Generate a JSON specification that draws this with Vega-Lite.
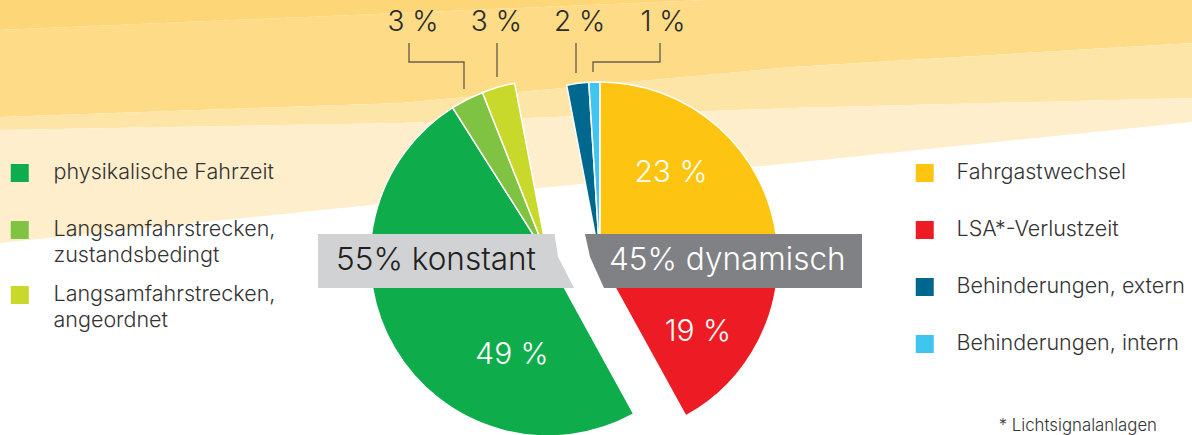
{
  "$schema": "https://vega.github.io/schema/vega-lite/v6.json",
  "width": 1192,
  "height": 435,
  "padding": 0,
  "autosize": {"type": "none"},
  "background": "#ffffff",
  "config": {"view": {"stroke": null}, "font": "Inter"},
  "title": {"text": "* Lichtsignalanlagen", "orient": "bottom", "anchor": "end", "frame": "group", "offset": -21, "dx": -35, "fontSize": 16.8, "font": "Inter", "fontWeight": 300, "color": "#333333", "baseline": "top"},
  "datasets": {
    "anteile": [
      {"Kategorie": "Behinderungen, extern", "Anteil": "dynamisch", "Prozent": 2, "Rang": 1},
      {"Kategorie": "Behinderungen, intern", "Anteil": "dynamisch", "Prozent": 1, "Rang": 2},
      {"Kategorie": "Fahrgastwechsel", "Anteil": "dynamisch", "Prozent": 23, "Rang": 3},
      {"Kategorie": "LSA*-Verlustzeit", "Anteil": "dynamisch", "Prozent": 19, "Rang": 4},
      {"Kategorie": "physikalische Fahrzeit", "Anteil": "konstant", "Prozent": 49, "Rang": 5},
      {"Kategorie": "Langsamfahrstrecken, zustandsbedingt", "Anteil": "konstant", "Prozent": 3, "Rang": 6},
      {"Kategorie": "Langsamfahrstrecken, angeordnet", "Anteil": "konstant", "Prozent": 3, "Rang": 7}
    ],
    "hintergrund": [
      {"Band": "oben", "x": 0, "y": 0, "y2": 30},
      {"Band": "oben", "x": 400, "y": 0, "y2": 13},
      {"Band": "oben", "x": 706, "y": 0, "y2": 0},
      {"Band": "kraeftig", "x": 0, "y": 30, "y2": 117},
      {"Band": "kraeftig", "x": 400, "y": 13, "y2": 103},
      {"Band": "kraeftig", "x": 706, "y": 0, "y2": 74.9},
      {"Band": "kraeftig", "x": 792, "y": 0, "y2": 67},
      {"Band": "kraeftig", "x": 1192, "y": 0, "y2": 43},
      {"Band": "mittel", "x": 0, "y": 117, "y2": 130},
      {"Band": "mittel", "x": 400, "y": 103, "y2": 123},
      {"Band": "mittel", "x": 792, "y": 67, "y2": 108},
      {"Band": "mittel", "x": 1192, "y": 43, "y2": 98},
      {"Band": "hell", "x": 0, "y": 130, "y2": 243},
      {"Band": "hell", "x": 400, "y": 123, "y2": 202},
      {"Band": "hell", "x": 792, "y": 108, "y2": 163},
      {"Band": "hell", "x": 1192, "y": 98, "y2": 122}
    ],
    "banner": [
      {"Banner": "konstant", "y": 234, "x": 318, "x2": 554.5},
      {"Banner": "konstant", "y": 256.7, "x": 318, "x2": 558},
      {"Banner": "konstant", "y": 288, "x": 318, "x2": 574},
      {"Banner": "dynamisch", "y": 234, "x": 585, "x2": 862},
      {"Banner": "dynamisch", "y": 257, "x": 590, "x2": 862},
      {"Banner": "dynamisch", "y": 288, "x": 604, "x2": 862}
    ],
    "fuehrung": [
      {"Linie": 1, "Punkt": 1, "x": 409, "y": 43},
      {"Linie": 1, "Punkt": 2, "x": 409, "y": 62},
      {"Linie": 1, "Punkt": 3, "x": 464, "y": 62},
      {"Linie": 1, "Punkt": 4, "x": 464, "y": 89},
      {"Linie": 2, "Punkt": 1, "x": 497, "y": 43},
      {"Linie": 2, "Punkt": 2, "x": 497, "y": 77},
      {"Linie": 3, "Punkt": 1, "x": 576, "y": 43},
      {"Linie": 3, "Punkt": 2, "x": 576, "y": 73},
      {"Linie": 4, "Punkt": 1, "x": 660, "y": 43},
      {"Linie": 4, "Punkt": 2, "x": 660, "y": 62},
      {"Linie": 4, "Punkt": 3, "x": 593, "y": 62},
      {"Linie": 4, "Punkt": 4, "x": 593, "y": 72}
    ]
  },
  "data": {"name": "anteile"},
  "layer": [
    {
      "data": {"name": "hintergrund"},
      "mark": {"type": "area", "orient": "vertical", "interpolate": "linear"},
      "encoding": {
        "x": {"field": "x", "type": "quantitative", "scale": {"domain": [0, 1192], "nice": false, "zero": false}, "axis": null},
        "y": {"field": "y", "type": "quantitative", "stack": null, "scale": {"domain": [0, 435], "nice": false, "zero": false, "reverse": true}, "axis": null},
        "y2": {"field": "y2"},
        "color": {"field": "Band", "type": "nominal", "scale": {"domain": ["oben", "kraeftig", "mittel", "hell"], "range": ["#fdd677", "#fddb87", "#fde5a8", "#feeecb"]}, "legend": null}
      }
    },
    {
      "transform": [{"filter": "datum.Anteil == 'konstant'"}],
      "mark": {"type": "arc", "outerRadius": 178, "stroke": "#ffffff", "strokeWidth": 1.5},
      "encoding": {
        "theta": {"field": "Prozent", "type": "quantitative", "stack": true, "scale": {"domain": [0, 55], "range": [2.638938, 6.09469]}},
        "order": {"field": "Rang", "type": "quantitative"},
        "x": {"field": "Anteil", "type": "nominal", "scale": {"type": "point", "domain": ["konstant", "dynamisch"], "range": [548, 600], "padding": 0}, "axis": null},
        "y": {"field": "Anteil", "type": "nominal", "scale": {"type": "point", "domain": ["konstant", "dynamisch"], "range": [258, 260], "padding": 0}, "axis": null},
        "color": {
          "field": "Kategorie", "type": "nominal",
          "scale": {"domain": ["physikalische Fahrzeit", "Langsamfahrstrecken, zustandsbedingt", "Langsamfahrstrecken, angeordnet"], "range": ["#0fac4c", "#80c242", "#c8d92b"]},
          "legend": {
            "orient": "none", "legendX": 9, "legendY": 144.5, "title": null, "padding": 0,
            "symbolType": "square", "symbolSize": 324, "symbolStrokeWidth": 0, "symbolOpacity": 1,
            "labelFont": "Inter", "labelFontWeight": 300, "labelFontSize": 21.5, "labelColor": "#333333",
            "labelOffset": 23, "labelLimit": 500, "clipHeight": 57, "rowPadding": 0, "labelBaseline": "middle",
            "labelExpr": "indexof(datum.label, ',') > 0 ? [slice(datum.label, 0, indexof(datum.label, ',') + 1), slice(datum.label, indexof(datum.label, ',') + 2)] : datum.label",
            "encoding": {"labels": {"lineHeight": {"value": 25.5}}}
          }
        }
      }
    },
    {
      "transform": [{"filter": "datum.Anteil == 'dynamisch'"}],
      "mark": {"type": "arc", "outerRadius": 178, "stroke": "#ffffff", "strokeWidth": 1.5},
      "encoding": {
        "theta": {"field": "Prozent", "type": "quantitative", "stack": true, "scale": {"domain": [0, 45], "range": [-0.188496, 2.638938]}},
        "order": {"field": "Rang", "type": "quantitative"},
        "x": {"field": "Anteil", "type": "nominal", "scale": {"type": "point", "domain": ["konstant", "dynamisch"], "range": [548, 600], "padding": 0}, "axis": null},
        "y": {"field": "Anteil", "type": "nominal", "scale": {"type": "point", "domain": ["konstant", "dynamisch"], "range": [258, 260], "padding": 0}, "axis": null},
        "color": {
          "field": "Kategorie", "type": "nominal",
          "scale": {"domain": ["Fahrgastwechsel", "LSA*-Verlustzeit", "Behinderungen, extern", "Behinderungen, intern"], "range": ["#fec412", "#ed1c24", "#00688f", "#40c4f0"]},
          "legend": {
            "orient": "none", "legendX": 914, "legendY": 144.85, "title": null, "padding": 0,
            "symbolType": "square", "symbolSize": 324, "symbolStrokeWidth": 0, "symbolOpacity": 1,
            "labelFont": "Inter", "labelFontWeight": 300, "labelFontSize": 21.5, "labelColor": "#333333",
            "labelOffset": 21, "labelLimit": 500, "clipHeight": 56.3, "rowPadding": 0, "labelBaseline": "middle"
          }
        }
      }
    },
    {
      "transform": [{"filter": "datum.Kategorie == 'Fahrgastwechsel'"}, {"calculate": "datum.Prozent + ' %'", "as": "Label"}],
      "mark": {"type": "text", "font": "Inter", "fontWeight": 300, "fontSize": 30, "color": "#ffffff", "align": "center", "baseline": "middle", "dx": 71, "dy": -87.5},
      "encoding": {
        "x": {"field": "Anteil", "type": "nominal", "scale": {"type": "point", "domain": ["konstant", "dynamisch"], "range": [548, 600], "padding": 0}, "axis": null},
        "y": {"field": "Anteil", "type": "nominal", "scale": {"type": "point", "domain": ["konstant", "dynamisch"], "range": [258, 260], "padding": 0}, "axis": null},
        "text": {"field": "Label", "type": "nominal"}
      }
    },
    {
      "transform": [{"filter": "datum.Kategorie == 'LSA*-Verlustzeit'"}, {"calculate": "datum.Prozent + ' %'", "as": "Label"}],
      "mark": {"type": "text", "font": "Inter", "fontWeight": 300, "fontSize": 30, "color": "#ffffff", "align": "center", "baseline": "middle", "dx": 98, "dy": 72},
      "encoding": {
        "x": {"field": "Anteil", "type": "nominal", "scale": {"type": "point", "domain": ["konstant", "dynamisch"], "range": [548, 600], "padding": 0}, "axis": null},
        "y": {"field": "Anteil", "type": "nominal", "scale": {"type": "point", "domain": ["konstant", "dynamisch"], "range": [258, 260], "padding": 0}, "axis": null},
        "text": {"field": "Label", "type": "nominal"}
      }
    },
    {
      "transform": [{"filter": "datum.Kategorie == 'physikalische Fahrzeit'"}, {"calculate": "datum.Prozent + ' %'", "as": "Label"}],
      "mark": {"type": "text", "font": "Inter", "fontWeight": 300, "fontSize": 30, "color": "#ffffff", "align": "center", "baseline": "middle", "dx": -36, "dy": 97},
      "encoding": {
        "x": {"field": "Anteil", "type": "nominal", "scale": {"type": "point", "domain": ["konstant", "dynamisch"], "range": [548, 600], "padding": 0}, "axis": null},
        "y": {"field": "Anteil", "type": "nominal", "scale": {"type": "point", "domain": ["konstant", "dynamisch"], "range": [258, 260], "padding": 0}, "axis": null},
        "text": {"field": "Label", "type": "nominal"}
      }
    },
    {
      "data": {"name": "banner"},
      "mark": {"type": "area", "orient": "horizontal", "interpolate": "linear"},
      "encoding": {
        "y": {"field": "y", "type": "quantitative", "scale": {"domain": [0, 435], "nice": false, "zero": false, "reverse": true}, "axis": null},
        "x": {"field": "x", "type": "quantitative", "stack": null, "scale": {"domain": [0, 1192], "nice": false, "zero": false}, "axis": null},
        "x2": {"field": "x2"},
        "color": {"field": "Banner", "type": "nominal", "scale": {"domain": ["konstant", "dynamisch"], "range": ["#d1d2d4", "#808184"]}, "legend": null}
      }
    },
    {
      "transform": [
        {"aggregate": [{"op": "sum", "field": "Prozent", "as": "Summe"}], "groupby": ["Anteil"]},
        {"calculate": "datum.Summe + '% ' + datum.Anteil", "as": "Label"}
      ],
      "mark": {"type": "text", "font": "Inter", "fontWeight": 300, "fontSize": 31.5, "align": "left", "baseline": "alphabetic"},
      "encoding": {
        "x": {"field": "Anteil", "type": "nominal", "scale": {"type": "point", "domain": ["konstant", "dynamisch"], "range": [336, 609], "padding": 0}, "axis": null},
        "y": {"datum": 270, "type": "quantitative", "scale": {"domain": [0, 435], "nice": false, "zero": false, "reverse": true}, "axis": null},
        "text": {"field": "Label", "type": "nominal"},
        "color": {"field": "Anteil", "type": "nominal", "scale": {"domain": ["konstant", "dynamisch"], "range": ["#231f20", "#ffffff"]}, "legend": null}
      }
    },
    {
      "transform": [{"filter": "datum.Prozent <= 3"}, {"calculate": "datum.Prozent + ' %'", "as": "Label"}],
      "mark": {"type": "text", "font": "Inter", "fontWeight": 300, "fontSize": 28, "color": "#2b2b2b", "align": "center", "baseline": "alphabetic"},
      "encoding": {
        "x": {"field": "Kategorie", "type": "nominal", "scale": {"type": "point", "domain": ["Langsamfahrstrecken, zustandsbedingt", "Langsamfahrstrecken, angeordnet", "Behinderungen, extern", "Behinderungen, intern"], "range": [413, 663], "padding": 0}, "axis": null},
        "y": {"datum": 31, "type": "quantitative", "scale": {"domain": [0, 435], "nice": false, "zero": false, "reverse": true}, "axis": null},
        "text": {"field": "Label", "type": "nominal"}
      }
    },
    {
      "data": {"name": "fuehrung"},
      "mark": {"type": "line", "color": "#6b634e", "strokeWidth": 1.4, "interpolate": "linear"},
      "encoding": {
        "x": {"field": "x", "type": "quantitative", "scale": {"domain": [0, 1192], "nice": false, "zero": false}, "axis": null},
        "y": {"field": "y", "type": "quantitative", "scale": {"domain": [0, 435], "nice": false, "zero": false, "reverse": true}, "axis": null},
        "detail": {"field": "Linie", "type": "nominal"},
        "order": {"field": "Punkt", "type": "quantitative"}
      }
    }
  ],
  "resolve": {
    "scale": {"x": "independent", "y": "independent", "theta": "independent", "color": "independent"},
    "legend": {"color": "independent"}
  }
}
